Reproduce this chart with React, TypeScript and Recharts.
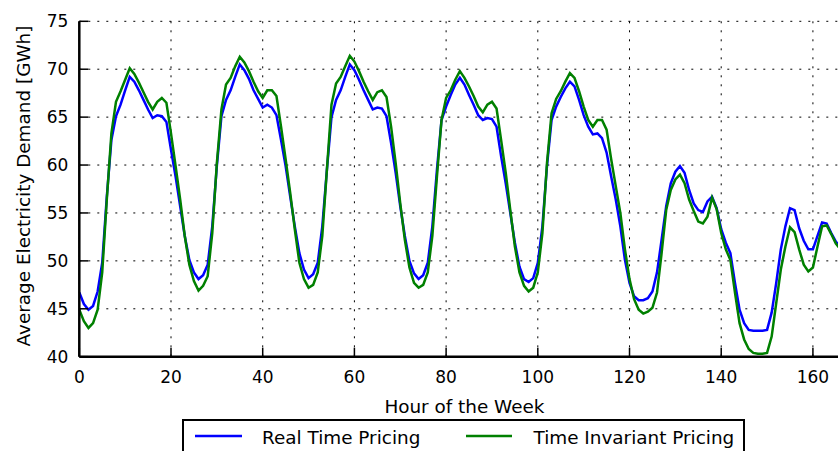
import React from 'react';
import { LineChart, Line, XAxis, YAxis, CartesianGrid } from 'recharts';

const realTimePricing = [
  46.7, 45.5, 44.9, 45.3, 46.8, 49.8, 56.7, 62.6, 65.1, 66.3, 67.8, 69.2, 68.7, 67.8, 66.8, 65.8, 64.9, 65.2, 65.1, 64.5, 61.6, 58.8, 55.7, 52.6,
  50.1, 48.8, 48.1, 48.5, 49.6, 53.6, 59.9, 65.1, 66.8, 67.8, 69.2, 70.5, 69.9, 69.0, 67.8, 66.9, 66.0, 66.3, 66.0, 65.2, 62.6, 59.9, 56.7, 53.6,
  50.8, 49.1, 48.2, 48.6, 49.8, 53.6, 59.5, 65.0, 66.8, 67.8, 69.2, 70.5, 69.9, 68.9, 67.8, 66.8, 65.8, 66.0, 65.9, 65.1, 62.3, 59.2, 55.7, 52.6,
  50.0, 48.7, 48.1, 48.5, 49.8, 53.6, 59.5, 64.7, 66.1, 67.3, 68.4, 69.1, 68.4, 67.3, 66.3, 65.2, 64.7, 64.9, 64.8, 64.0, 60.9, 58.1, 55.0, 51.9,
  49.4, 48.1, 47.8, 48.2, 49.8, 53.6, 59.9, 64.7, 66.1, 67.1, 68.0, 68.7, 68.2, 66.8, 65.2, 64.0, 63.2, 63.3, 62.8, 61.3, 58.8, 56.4, 53.6, 50.1,
  47.7, 46.3, 45.9, 45.9, 46.1, 46.8, 48.8, 52.2, 55.7, 58.1, 59.3, 59.9, 59.2, 57.4, 56.0, 55.3, 55.1, 56.2, 56.7, 55.5, 53.3, 51.9, 50.8, 47.7,
  44.9, 43.5, 42.8, 42.7, 42.7, 42.7, 42.8, 44.6, 47.7, 51.2, 53.6, 55.5, 55.3, 53.4, 52.1, 51.2, 51.2, 52.6, 54.0, 53.9, 52.9, 52.0, 51.5, 51.2,
];

const timeInvariantPricing = [
  44.9, 43.7, 43.0, 43.5, 44.9, 48.8, 56.4, 63.3, 66.6, 67.7, 68.9, 70.1, 69.5, 68.6, 67.6, 66.6, 65.8, 66.6, 67.0, 66.5, 63.3, 59.9, 56.4, 52.6,
  49.6, 47.9, 46.9, 47.4, 48.4, 52.9, 60.2, 65.8, 68.4, 69.1, 70.3, 71.3, 70.7, 69.8, 68.7, 67.7, 67.0, 67.8, 67.8, 67.2, 64.0, 60.6, 57.1, 53.3,
  49.8, 48.1, 47.2, 47.5, 48.8, 52.6, 59.5, 66.3, 68.5, 69.2, 70.3, 71.4, 70.8, 69.8, 68.7, 67.7, 66.8, 67.6, 67.8, 67.1, 64.0, 60.2, 56.0, 52.2,
  49.3, 47.7, 47.2, 47.5, 48.8, 52.6, 58.8, 64.7, 67.0, 67.8, 68.9, 69.8, 69.1, 68.2, 67.2, 66.1, 65.5, 66.3, 66.6, 65.9, 62.6, 59.2, 55.3, 51.5,
  48.8, 47.4, 46.8, 47.2, 48.8, 52.9, 60.2, 65.4, 66.9, 67.7, 68.7, 69.6, 69.1, 67.7, 66.1, 64.7, 64.0, 64.7, 64.7, 63.7, 60.6, 57.8, 55.0, 51.2,
  48.1, 46.0, 44.9, 44.5, 44.7, 45.1, 46.7, 50.8, 55.3, 57.4, 58.5, 59.0, 58.1, 56.4, 55.2, 54.1, 53.9, 54.6, 56.6, 55.4, 52.9, 51.2, 50.1, 46.7,
  43.5, 41.8, 40.8, 40.4, 40.3, 40.3, 40.4, 42.1, 45.6, 49.1, 51.5, 53.5, 53.0, 51.2, 49.6, 48.9, 49.3, 51.5, 53.6, 53.7, 52.8, 51.8, 51.2, 50.8,
];

const hours = realTimePricing.map((_, i) => i);
const xTicks = [0, 20, 40, 60, 80, 100, 120, 140, 160];
const yTicks = [40, 45, 50, 55, 60, 65, 70, 75];
const seriesNames = ['Real Time Pricing', 'Time Invariant Pricing'];
const seriesColors = ['#0000ff', '#008000'];
const xLabel = 'Hour of the Week';
const yLabel = 'Average Electricity Demand [GWh]';

const data = hours.map((h, i) => ({ hour: h, rtp: realTimePricing[i], tip: timeInvariantPricing[i] }));

const FONT = '"DejaVu Sans", "Bitstream Vera Sans", sans-serif';

const BottomTick = (props: any) => {
  const { x, y, payload } = props;
  return (
    <g>
      <line x1={x} x2={x} y1={y} y2={y - 9} stroke="#000" strokeWidth={1.5} />
      <text x={x} y={y + 20} textAnchor="middle" dominantBaseline="central" fontSize={17} fontFamily={FONT} fill="#000">
        {payload.value}
      </text>
    </g>
  );
};

const TopTick = (props: any) => {
  const { x, y } = props;
  return <line x1={x} x2={x} y1={y} y2={y + 9} stroke="#000" strokeWidth={1.5} />;
};

const LeftTick = (props: any) => {
  const { x, y, payload } = props;
  return (
    <g>
      <line x1={x} x2={x + 9} y1={y} y2={y} stroke="#000" strokeWidth={1.5} />
      <text x={x - 11} y={y} textAnchor="end" dominantBaseline="central" fontSize={17} fontFamily={FONT} fill="#000">
        {payload.value}
      </text>
    </g>
  );
};

const YLabel = (props: any) => {
  const vb = props.viewBox || { x: 0, y: 21.3, width: 79.3, height: 335.4 };
  const cx = vb.x + 23;
  const cy = vb.y + vb.height / 2 - 3;
  return (
    <text x={cx} y={cy} transform={`rotate(-90 ${cx} ${cy})`} textAnchor="middle" dominantBaseline="central" fontSize={18.4} fontFamily={FONT} fill="#000">
      {yLabel}
    </text>
  );
};

const XLabel = (props: any) => {
  const vb = props.viewBox || { x: 79.3, y: 356.7, width: 770, height: 30 };
  return (
    <text x={vb.x + vb.width / 2} y={vb.y + 50} textAnchor="middle" dominantBaseline="central" fontSize={18.4} fontFamily={FONT} fill="#000">
      {xLabel}
    </text>
  );
};

export default function App() {
  return (
    <div style={{ position: 'fixed', left: 0, top: 0, width: 838, height: 451, overflow: 'hidden', background: '#fff' }}>
      <LineChart
        width={860}
        height={451}
        data={data}
        margin={{ top: 21.3, right: 10.4, left: 0, bottom: 64.3 }}
      >
        <CartesianGrid stroke="#000" strokeWidth={1} strokeDasharray="2 7" horizontalValues={yTicks} verticalValues={xTicks} />
        <XAxis
          xAxisId={0}
          type="number"
          dataKey="hour"
          domain={[0, 168]}
          ticks={xTicks}
          interval={0}
          height={30}
          tickSize={0}
          tickMargin={0}
          tickLine={false}
          axisLine={{ stroke: '#000', strokeWidth: 2.5 }}
          tick={<BottomTick />}
          label={<XLabel />}
          allowDataOverflow
        />
        <XAxis
          xAxisId="top"
          orientation="top"
          type="number"
          dataKey="hour"
          domain={[0, 168]}
          ticks={xTicks}
          interval={0}
          height={0}
          tickSize={0}
          tickMargin={0}
          tickLine={false}
          axisLine={{ stroke: '#000', strokeWidth: 2.5 }}
          tick={<TopTick />}
          allowDataOverflow
        />
        <YAxis
          type="number"
          domain={[40, 75]}
          ticks={yTicks}
          interval={0}
          width={79.3}
          tickSize={0}
          tickMargin={0}
          tickLine={false}
          axisLine={{ stroke: '#000', strokeWidth: 2.5 }}
          tick={<LeftTick />}
          label={<YLabel />}
          allowDataOverflow
        />
        <Line type="linear" dataKey="rtp" name={seriesNames[0]} stroke={seriesColors[0]} strokeWidth={2.5} dot={false} isAnimationActive={false} />
        <Line type="linear" dataKey="tip" name={seriesNames[1]} stroke={seriesColors[1]} strokeWidth={2.5} dot={false} isAnimationActive={false} />
      </LineChart>
      <svg width={838} height={451} style={{ position: 'absolute', left: 0, top: 0, pointerEvents: 'none' }}>
        <rect x={183} y={420} width={561} height={50} fill="#fff" stroke="#000" strokeWidth={2} />
        <line x1={195} x2={242} y1={436} y2={436} stroke={seriesColors[0]} strokeWidth={2.5} />
        <text x={262} y={437} dominantBaseline="central" fontSize={18.4} fontFamily={FONT} fill="#000">{seriesNames[0]}</text>
        <line x1={466} x2={512} y1={436} y2={436} stroke={seriesColors[1]} strokeWidth={2.5} />
        <text x={533.5} y={437} dominantBaseline="central" fontSize={18.4} fontFamily={FONT} fill="#000">{seriesNames[1]}</text>
      </svg>
    </div>
  );
}
